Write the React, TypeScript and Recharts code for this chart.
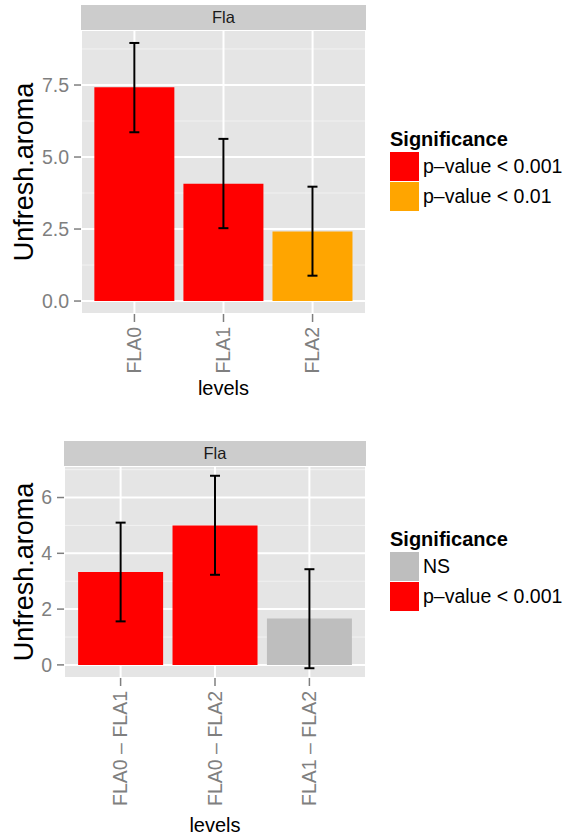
import { Bar, BarChart, CartesianGrid, Cell, ErrorBar, XAxis, YAxis } from 'recharts'

const topLevels = ['FLA0', 'FLA1', 'FLA2']
const topMeans = [7.42, 4.07, 2.41]
const topLower = [5.86, 2.53, 0.88]
const topUpper = [8.96, 5.63, 3.97]
const topSignif = ['p–value < 0.001', 'p–value < 0.001', 'p–value < 0.01']
const topTicks = [0, 2.5, 5, 7.5]
const topMinor = [1.25, 3.75, 6.25, 8.75]
const topLegend = ['p–value < 0.001', 'p–value < 0.01']

const bottomLevels = ['FLA0 – FLA1', 'FLA0 – FLA2', 'FLA1 – FLA2']
const bottomMeans = [3.33, 5.0, 1.66]
const bottomLower = [1.56, 3.23, -0.12]
const bottomUpper = [5.1, 6.78, 3.43]
const bottomSignif = ['p–value < 0.001', 'p–value < 0.001', 'NS']
const bottomTicks = [0, 2, 4, 6]
const bottomMinor = [1, 3, 5, 7]
const bottomLegend = ['NS', 'p–value < 0.001']

const colours: Record<string, string> = {
  NS: '#BEBEBE',
  'p–value < 0.001': '#FF0000',
  'p–value < 0.01': '#FFA500',
}

const font = '"Liberation Sans", Arial, sans-serif'
const grey = '#7F7F7F'

function rows(levels: string[], means: number[], lower: number[], upper: number[], sig: string[]) {
  return levels.map((level, i) => ({
    level,
    mean: means[i],
    err: [means[i] - lower[i], upper[i] - means[i]],
    sig: sig[i],
  }))
}

const XTick = (props: any) => {
  const { x, y, payload } = props
  return (
    <text
      x={x}
      y={y}
      transform={`rotate(-90 ${x} ${y})`}
      textAnchor="end"
      dy="0.35em"
      fill={grey}
      fontSize={19.5}
      fontFamily={font}
    >
      {payload.value}
    </text>
  )
}

function Panel(props: {
  data: any[]
  height: number
  axisWidth: number
  xAxisHeight: number
  pad: number
  domain: [number, number]
  ticks: number[]
  minor: number[]
  fmt: (v: number) => string
}) {
  const { data, height, axisWidth, xAxisHeight, pad, domain, ticks, minor, fmt } = props
  return (
    <BarChart
      width={380}
      height={height}
      data={data}
      margin={{ top: 30, right: 14, left: 0, bottom: 0 }}
      barCategoryGap="5%"
    >
      <CartesianGrid
        fill="#E5E5E5"
        fillOpacity={1}
        stroke="#F2F2F2"
        strokeWidth={1}
        vertical={false}
        horizontalValues={minor}
      />
      <CartesianGrid stroke="#FFFFFF" strokeWidth={2} />
      <XAxis
        dataKey="level"
        height={xAxisHeight}
        padding={{ left: pad, right: pad }}
        axisLine={false}
        tickLine={{ stroke: grey, strokeWidth: 1.5 }}
        tickSize={8}
        tickMargin={5}
        tick={<XTick />}
        interval={0}
      />
      <YAxis
        type="number"
        domain={domain}
        ticks={ticks}
        allowDataOverflow
        width={axisWidth}
        axisLine={false}
        tickLine={{ stroke: grey, strokeWidth: 1.5 }}
        tickSize={7}
        tickMargin={5}
        tickFormatter={fmt}
        tick={{ fill: grey, fontSize: 19.5, fontFamily: font }}
      />
      <Bar dataKey="mean" isAnimationActive={false}>
        {data.map((d) => (
          <Cell key={d.level} fill={colours[d.sig]} />
        ))}
        <ErrorBar dataKey="err" width={5} stroke="#000000" strokeWidth={2} isAnimationActive={false} />
      </Bar>
    </BarChart>
  )
}

function Decor(props: {
  top: number
  plotLeft: number
  plotTop: number
  plotBottom: number
  levelsY: number
  legendY: number
  entries: string[]
}) {
  const { top, plotLeft, plotTop, plotBottom, levelsY, legendY, entries } = props
  const cx = (plotLeft + 366) / 2
  const cy = (plotTop + plotBottom) / 2
  return (
    <g transform={`translate(0 ${top})`} fontFamily={font}>
      <rect x={plotLeft} y={plotTop - 25} width={366 - plotLeft} height={25} fill="#CCCCCC" />
      <text x={cx} y={plotTop - 12.5} dy="0.35em" textAnchor="middle" fontSize={16.5} fill="#1A1A1A">
        Fla
      </text>
      <text x={cx} y={levelsY} dy="0.35em" textAnchor="middle" fontSize={20} fill="#000">
        levels
      </text>
      <text
        x={24}
        y={cy}
        dy="0.35em"
        textAnchor="middle"
        fontSize={27}
        fill="#000"
        transform={`rotate(-90 24 ${cy})`}
      >
        Unfresh.aroma
      </text>
      <text x={390} y={legendY} fontSize={20} fontWeight="bold" fill="#000">
        Significance
      </text>
      {entries.map((e, i) => (
        <g key={e}>
          <rect x={390} y={legendY + 6 + i * 30} width={29} height={29} fill={colours[e]} />
          <text x={423} y={legendY + 6 + i * 30 + 14.5} dy="0.35em" fontSize={19.5} fill="#000">
            {e}
          </text>
        </g>
      ))}
    </g>
  )
}

export default function App() {
  const topData = rows(topLevels, topMeans, topLower, topUpper, topSignif)
  const bottomData = rows(bottomLevels, bottomMeans, bottomLower, bottomUpper, bottomSignif)
  return (
    <div style={{ position: 'absolute', left: 0, top: 0, width: 570, height: 839, background: '#fff' }}>
      <div style={{ position: 'absolute', left: 0, top: 0 }}>
        <Panel
          data={topData}
          height={420}
          axisWidth={81}
          xAxisHeight={106}
          pad={8.9}
          domain={[-0.45, 9.41]}
          ticks={topTicks}
          minor={topMinor}
          fmt={(v) => v.toFixed(1)}
        />
      </div>
      <div style={{ position: 'absolute', left: 0, top: 436 }}>
        <Panel
          data={bottomData}
          height={400}
          axisWidth={64}
          xAxisHeight={158}
          pad={9.4}
          domain={[-0.47, 7.13]}
          ticks={bottomTicks}
          minor={bottomMinor}
          fmt={(v) => String(v)}
        />
      </div>
      <svg
        width={570}
        height={839}
        style={{ position: 'absolute', left: 0, top: 0, pointerEvents: 'none' }}
      >
        <Decor top={0} plotLeft={81} plotTop={30} plotBottom={314} levelsY={388} legendY={146} entries={topLegend} />
        <Decor top={436} plotLeft={64} plotTop={30} plotBottom={242} levelsY={389} legendY={110} entries={bottomLegend} />
      </svg>
    </div>
  )
}
